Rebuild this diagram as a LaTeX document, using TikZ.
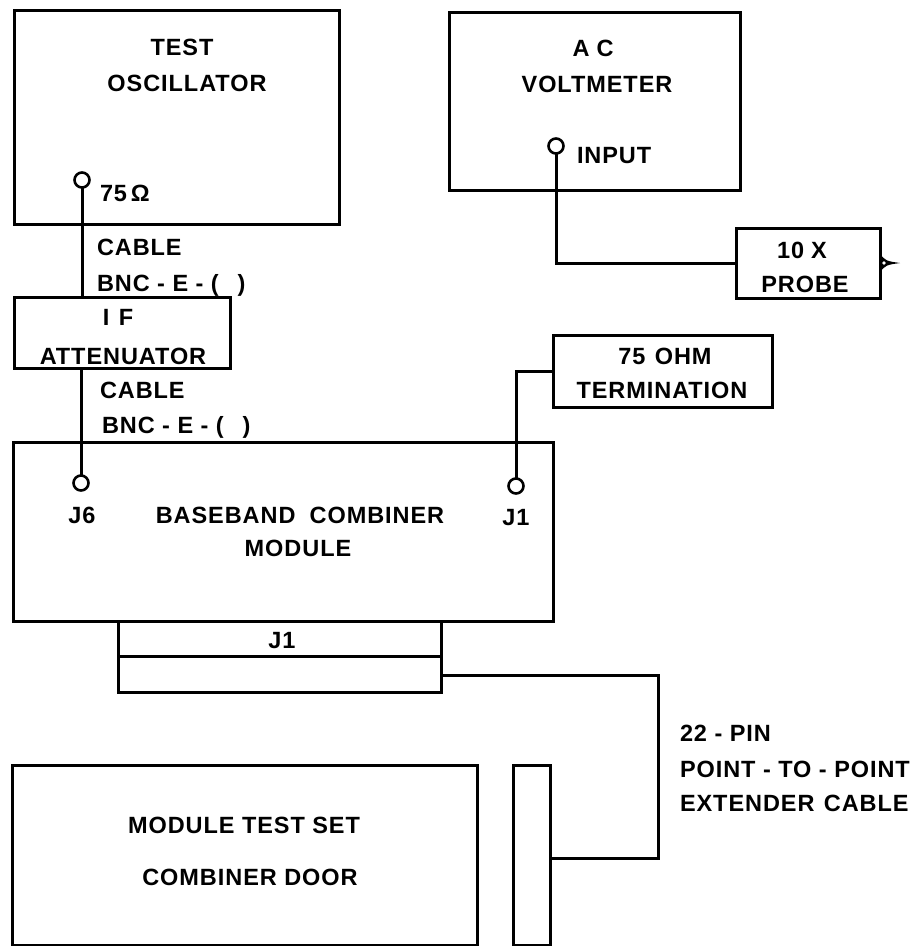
\documentclass[tikz,border=0pt]{standalone}
\usepackage{fontspec}
\setmainfont{Liberation Sans}[LetterSpace=4]
\begin{document}
\begin{tikzpicture}[x=1pt,y=-1pt, line width=3pt,
  box/.style={draw, rectangle, inner sep=0pt, outer sep=0pt},
  lbl/.style={inner sep=0pt, outer sep=0pt, font=\fontsize{23.5}{28}\selectfont\bfseries},
  lc/.style={lbl, anchor=base},
  ll/.style={lbl, anchor=base west},
  jack/.style={draw, circle, minimum size=15pt, inner sep=0pt, outer sep=0pt, line width=2.6pt, fill=white}]
\useasboundingbox (0,0) rectangle (923,946);

% boxes
\node[box, minimum width=325pt, minimum height=214pt] (osc) at (176.5,117) {};
\node[box, minimum width=291pt, minimum height=178pt] (volt) at (594.5,101) {};
\node[box, minimum width=144pt, minimum height=70pt] (probe) at (808,263) {};
\node[box, minimum width=216pt, minimum height=71pt] (att) at (122,332.5) {};
\node[box, minimum width=219pt, minimum height=72pt] (termn) at (662.5,371) {};
\node[box, minimum width=540pt, minimum height=179pt] (bb) at (283,531.5) {};
\node[box, minimum width=323pt, minimum height=35pt] (jtop) at (279.5,638.5) {};
\node[box, minimum width=323pt, minimum height=36pt] (jbot) at (279.5,674) {};
\node[box, minimum width=37pt, minimum height=180pt] (ext) at (531.5,855) {};
\node[box, minimum width=465pt, minimum height=180pt] (mts) at (244.5,855) {};

% jacks
\node[jack] (oscout) at (82,180) {};
\node[jack] (vin) at (556,146) {};
\node[jack] (j6) at (81,483) {};
\node[jack] (j1) at (516,486) {};

% connectors
\draw (oscout.south) -- (oscout.south |- att.north);
\draw (j6.north |- att.south) -- (j6.north);
\coordinate (vbend) at (vin.south |- probe.west);
\draw (vin.south) -- (vbend) -- (probe.west);
\coordinate (tbend) at (j1.north |- termn.west);
\draw (termn.west) -- (tbend) -- (j1.north);
\coordinate (c1) at (658,675);
\coordinate (c2) at (658,858);
\draw (jbot.east |- c1) -- (c1) -- (c2) -- (c2 -| ext.east);
% probe tip
\coordinate (tip) at (900,263);
\fill (probe.east) ++(0,-9) .. controls (886,261) .. (tip) .. controls (886,265) .. (880,272) -- cycle;
\fill[white] (884,263) circle (1.8pt);

% labels
\node[lc] (t1) at (182,55.5) {TEST};
\node[lc] (t2) at (187,91.5) {OSCILLATOR};
\node[ll] (t3) at (100,201.5) {75\,Ω};
\node[ll] (t4) at (97,255.5) {CABLE};
\node[ll] (t5) at (97,291.5) {BNC - E - (\hspace{0.8em})};
\node[lc] (t6) at (118,325.5) {I\hspace{0.4em}F};
\node[lc] (t7) at (123,364.5) {ATTENUATOR};
\node[ll] (t8) at (100,398.5) {CABLE};
\node[ll] (t9) at (102,433.5) {BNC - E - (\hspace{0.8em})};
\node[lc] (t10) at (82,523.5) {J6};
\node[lc] (t11) at (300,523.5) {BASEBAND\hspace{0.6em}COMBINER};
\node[lc] (t12) at (298,556.5) {MODULE};
\node[lc] (t13) at (516,525.5) {J1};
\node[lc] (t14) at (282,648.5) {J1};
\node[lc] (t15) at (593,56.5) {A\hspace{0.3em}C};
\node[lc] (t16) at (597,92.5) {VOLTMETER};
\node[ll] (t17) at (577,163.5) {INPUT};
\node[lc] (t18) at (802,258.5) {10\hspace{0.3em}X};
\node[lc] (t19) at (805,292.5) {PROBE};
\node[lc] (t20) at (665,364.5) {75\hspace{0.4em}OHM};
\node[lc] (t21) at (662,398.5) {TERMINATION};
\node[ll] (t22) at (680,741.5) {22 - PIN};
\node[ll] (t23) at (680,777.5) {POINT - TO - POINT};
\node[ll] (t24) at (680,811.5) {EXTENDER\hspace{0.4em}CABLE};
\node[lc] (t25) at (244,833.5) {MODULE TEST SET};
\node[lc] (t26) at (250,885.5) {COMBINER DOOR};
\end{tikzpicture}
\end{document}
